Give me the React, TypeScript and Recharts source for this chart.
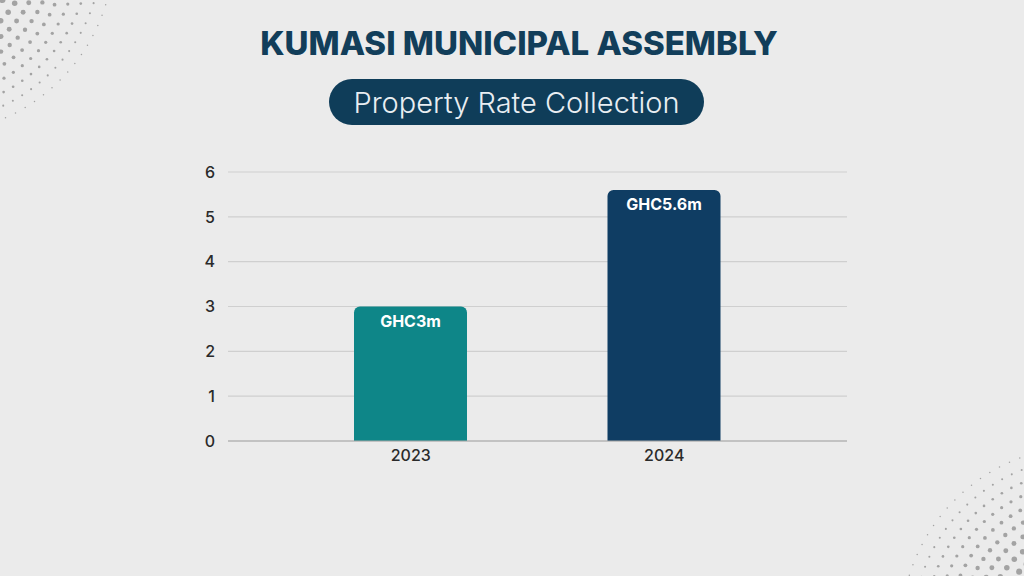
import React from "react";
import { BarChart, Bar, XAxis, YAxis, CartesianGrid, LabelList, Cell } from "recharts";

const years = ["2023", "2024"];
const collections = [3, 5.6];
const valueLabels = ["GHC3m", "GHC5.6m"];
const barColors = ["#0e8688", "#0f3d63"];
const yTicks = [0, 1, 2, 3, 4, 5, 6];

const data = years.map((y, i) => ({ year: y, value: collections[i], label: valueLabels[i] }));

const FONT = "Inter, 'Open Sans', sans-serif";

function Dots({ cx, cy, flip }: { cx: number; cy: number; flip: boolean }) {
  const dots: React.ReactNode[] = [];
  let k = 0;
  for (let r = 40; r <= 190; r += 12) {
    const size = Math.max(0.7, 4.2 * (1 - (r - 40) / 175));
    const n = Math.max(3, Math.round((Math.PI / 2) * r / 11));
    for (let j = 0; j <= n; j++) {
      const a = (j / n) * (Math.PI / 2);
      const x = flip ? cx - r * Math.cos(a) : cx + r * Math.cos(a);
      const y = flip ? cy - r * Math.sin(a) : cy + r * Math.sin(a);
      if (x < -4 || y < -4 || x > 1028 || y > 580) continue;
      dots.push(<circle key={k++} cx={x} cy={y} r={size} fill="#a3a3a3" />);
    }
  }
  return <g>{dots}</g>;
}

export default function App() {
  return (
    <div style={{ position: "absolute", left: 0, top: 0, width: 1024, height: 576, background: "#ebebeb", overflow: "hidden", fontFamily: FONT }}>
      <svg width={1024} height={576} style={{ position: "absolute", left: 0, top: 0 }}>
        <Dots cx={-70} cy={-50} flip={false} />
        <Dots cx={1085} cy={630} flip={true} />
      </svg>
      <div style={{ position: "absolute", left: 7, top: 23, width: 1024, textAlign: "center", fontSize: 33, fontWeight: 800, color: "#123e5a", letterSpacing: 0 }}>
        KUMASI MUNICIPAL ASSEMBLY
      </div>
      <div style={{ position: "absolute", left: 329, top: 79, width: 375, height: 46, borderRadius: 23, background: "#0f3d59", color: "#e9eef2", fontSize: 29, fontWeight: 300, display: "flex", alignItems: "center", justifyContent: "center", boxSizing: "border-box" }}>
        Property Rate Collection
      </div>
      <div style={{ position: "absolute", left: 0, top: 0 }}>
        <BarChart width={1024} height={576} data={data} margin={{ top: 172, right: 177, bottom: 105, left: 188 }}>
          <CartesianGrid vertical={false} stroke="#cfcfcf" strokeWidth={1.2} />
          <XAxis
            dataKey="year"
            height={30}
            padding={{ left: 56, right: 56 }}
            axisLine={{ stroke: "#a8a8a8", strokeWidth: 1.2 }}
            tickLine={false}
            tickSize={0}
            tickMargin={9}
            tick={{ fill: "#2a2a2a", fontSize: 16, fontWeight: 500, fontFamily: FONT }}
          />
          <YAxis
            width={40}
            domain={[0, 6]}
            ticks={yTicks}
            axisLine={false}
            tickLine={false}
            tickSize={0}
            tickMargin={13}
            tick={{ fill: "#2a2a2a", fontSize: 16, fontWeight: 500, fontFamily: FONT }}
          />
          <Bar dataKey="value" barSize={113} radius={[6, 6, 0, 0]} isAnimationActive={false}>
            {data.map((d, i) => (
              <Cell key={d.year} fill={barColors[i]} />
            ))}
            <LabelList dataKey="label" position="insideTop" offset={9} fill="#ffffff" fontSize={16} fontWeight={700} fontFamily={FONT} />
          </Bar>
        </BarChart>
      </div>
    </div>
  );
}
